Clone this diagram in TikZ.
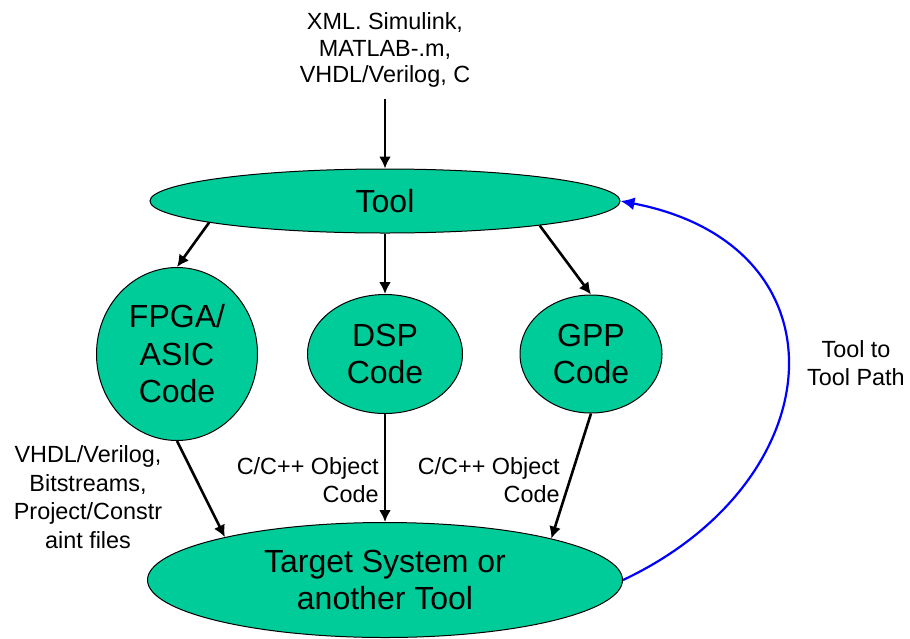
\documentclass[tikz,border=0pt]{standalone}
\usepackage{fontspec}
\setmainfont{Liberation Sans}
\usepackage{xcolor}
\usepackage{tikz}
\usetikzlibrary{arrows.meta}
\usetikzlibrary{shapes.geometric}
\definecolor{toolgreen}{RGB}{0,204,153}
\definecolor{loopblue}{RGB}{0,0,255}

\begin{document}
\begin{tikzpicture}[x=0.5pt,y=-0.5pt,
    blob/.style={ellipse,draw=black,line width=0.5pt,fill=toolgreen,
      inner sep=0pt,align=center,font=\fontsize{16}{18.75}\selectfont},
    lbl/.style={inner sep=0pt,font=\fontsize{11.7}{14.3}\selectfont},
    flow/.style={-{Latex[length=6pt,width=6pt]},line width=1.3pt,black},
    backpath/.style={-{Latex[length=7pt,width=6.5pt]},line width=1.1pt,loopblue}]
  \useasboundingbox (0,0) rectangle (910,638);
  % ellipses
  \node[blob,minimum width=235pt,minimum height=32pt] (tool) at (385,201) {Tool};
  \node[blob,minimum width=80.5pt,minimum height=86.5pt] (fpga) at (177,354)
    {FPGA/\\ASIC\\Code};
  \node[blob,minimum width=77.5pt,minimum height=59.5pt] (dsp) at (385,354)
    {DSP\\Code};
  \node[blob,minimum width=71pt,minimum height=59pt] (gpp) at (591,354)
    {GPP\\Code};
  \node[blob,minimum width=237.5pt,minimum height=57.5pt] (target) at (385,580)
    {Target System or\\another Tool};
  % labels
  \node[lbl,align=center,font=\fontsize{11.7}{13.3}\selectfont] (src) at (385,50)
    {XML. Simulink,\\MATLAB-.m,\\VHDL/Verilog, C};
  \node[lbl,align=center] (fpgaout) at (88,497)
    {VHDL/Verilog,\\Bitstreams,\\Project/Constr\\aint files};
  \node[lbl,align=right,anchor=east] (dspout) at (379,480)
    {C/C++ Object\\Code};
  \node[lbl,align=right,anchor=east] (gppout) at (560,480)
    {C/C++ Object\\Code};
  \node[lbl,align=center] (looplbl) at (856,363) {Tool to\\Tool Path};
  % arrows
  \draw[flow,shorten <=5.5pt] (src) -- (tool);
  \draw[flow] (tool.187.5) -- (fpga.north);
  \draw[flow] (tool.south) -- (dsp.north);
  \draw[flow] (tool.351.7) -- (gpp.north);
  \draw[flow] (fpga.south) -- (target.165.6);
  \draw[flow] (dsp.south) -- (target.north);
  \draw[flow] (gpp.south) -- (target.14.4);
  \draw[backpath] (target.east) .. controls (835,480) and (850,245) .. (tool.east);
\end{tikzpicture}
\end{document}
